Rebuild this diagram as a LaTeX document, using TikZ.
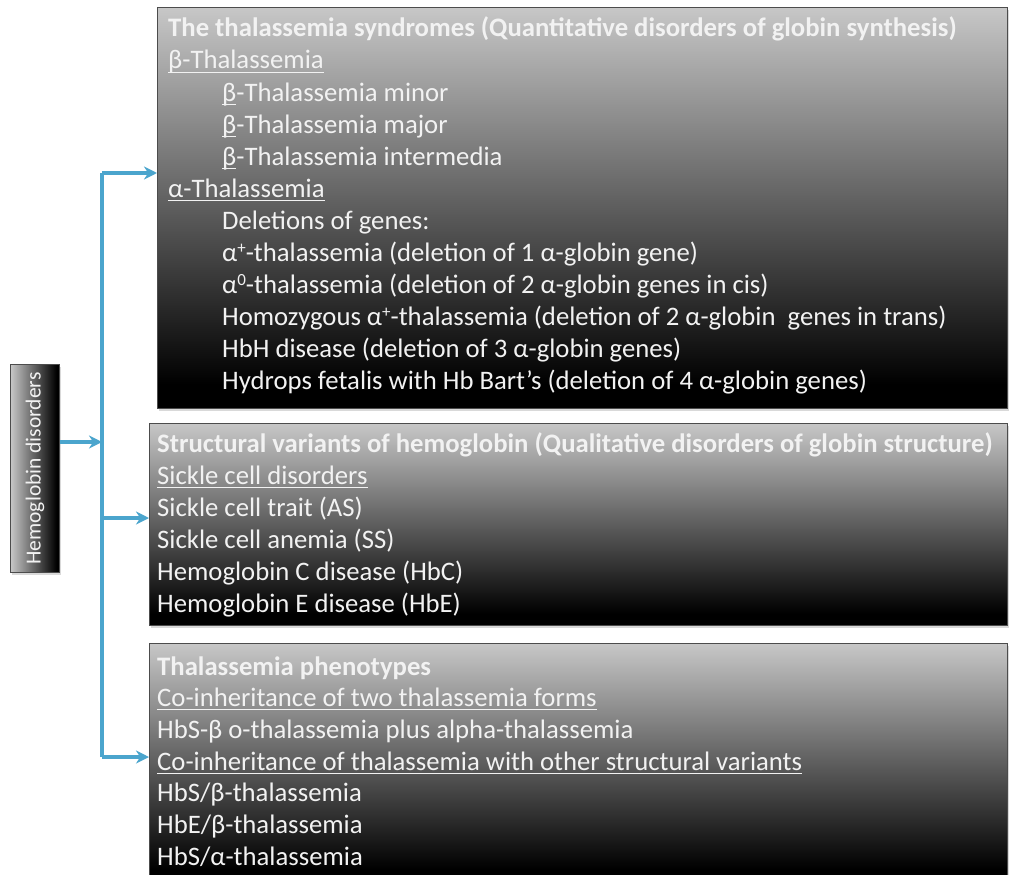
\documentclass[tikz,border=0pt]{standalone}
\usepackage{fontspec}
\setmainfont{Carlito}
\usetikzlibrary{arrows.meta,shadows}
\definecolor{topg}{gray}{0.78}
\definecolor{edgec}{gray}{0.3}
\definecolor{txtc}{gray}{0.95}
\definecolor{linec}{RGB}{75,165,205}
\pgfdeclareverticalshading{boxshade}{100bp}{color(0bp)=(black); color(25bp)=(black); color(28bp)=(black); color(75bp)=(topg); color(100bp)=(topg)}
\newcommand\ulx[1]{\setbox0\hbox{#1}\rlap{\rule[-3.5pt]{\wd0}{1pt}}\box0}
\newcommand\supx[1]{\raisebox{8pt}{\fontsize{17}{17}\selectfont #1}}
\begin{document}
\begin{tikzpicture}[x=1pt,y=-1pt,
  panel/.style={draw=edgec, line width=1.2pt, shade, shading=boxshade, inner sep=0, anchor=north west,
    drop shadow={shadow xshift=1pt,shadow yshift=-2pt,opacity=0.3}},
  tx/.style={anchor=base west, inner sep=0, text=txtc, font=\fontsize{26.7}{31.7}\selectfont},
  hd/.style={tx, font=\fontsize{26.7}{31.7}\selectfont\bfseries},
  conn/.style={draw=linec, line width=3.2pt},
  arr/.style={conn, -{Stealth[length=13pt,width=13pt]}},
]
\useasboundingbox (0,0) rectangle (1009,875);
% panels
\node[panel, minimum width=850pt, minimum height=401pt] (b1) at (157,7) {};
\node[panel, minimum width=858pt, minimum height=202pt] (b2) at (149,423) {};
\node[panel, minimum width=858pt, minimum height=240pt] (b3) at (149,643) {};
\node[panel, shading angle=90, minimum width=49pt, minimum height=208pt] (lb) at (10,364) {};
\node[tx, anchor=center, rotate=90, font=\fontsize{21.5}{26}\selectfont] (lbt) at (lb.center) {Hemoglobin disorders};
% box 1 text
\node[hd] (a1) at (168,37) {The thalassemia syndromes (Quantitative disorders of globin synthesis)};
\node[tx] (a2) at (168,69) {\ulx{β-Thalassemia}};
\node[tx] (a3) at (222,101) {\ulx{β}-Thalassemia minor};
\node[tx] (a4) at (222,133) {\ulx{β}-Thalassemia major};
\node[tx] (a5) at (222,165) {\ulx{β}-Thalassemia intermedia};
\node[tx] (a6) at (168,197) {\ulx{α-Thalassemia}};
\node[tx] (a7) at (222,229) {Deletions of genes:};
\node[tx] (a8) at (222,261) {α\supx{+}-thalassemia (deletion of 1 α-globin gene)};
\node[tx] (a9) at (222,293) {α\supx{0}-thalassemia (deletion of 2 α-globin genes in cis)};
\node[tx] (a10) at (222,325) {Homozygous α\supx{+}-thalassemia (deletion of 2 α-globin\ \ genes in trans)};
\node[tx] (a11) at (222,357) {HbH disease (deletion of 3 α-globin genes)};
\node[tx] (a12) at (222,389) {Hydrops fetalis with Hb Bart’s (deletion of 4 α-globin genes)};
% box 2 text
\node[hd] (c1) at (157,452) {Structural variants of hemoglobin (Qualitative disorders of globin structure)};
\node[tx] (c2) at (157,484) {\ulx{Sickle cell disorders}};
\node[tx] (c3) at (157,516) {Sickle cell trait (AS)};
\node[tx] (c4) at (157,548) {Sickle cell anemia (SS)};
\node[tx] (c5) at (157,580) {Hemoglobin C disease (HbC)};
\node[tx] (c6) at (157,612) {Hemoglobin E disease (HbE)};
% box 3 text
\node[hd] (d1) at (157,675) {Thalassemia phenotypes};
\node[tx] (d2) at (157,706.7) {\ulx{Co-inheritance of two thalassemia forms}};
\node[tx] (d3) at (157,738.4) {HbS-β o-thalassemia plus alpha-thalassemia};
\node[tx] (d4) at (157,770.1) {\ulx{Co-inheritance of thalassemia with other structural variants}};
\node[tx] (d5) at (157,801.8) {HbS/β-thalassemia};
\node[tx] (d6) at (157,833.5) {HbE/β-thalassemia};
\node[tx] (d7) at (157,865.2) {HbS/α-thalassemia};
% connectors
\coordinate (vtop) at (102,173);
\coordinate (vmid) at (102,442);
\coordinate (vb2) at (102,518);
\coordinate (vbot) at (102,757);
\draw[conn] (vtop) -- (vbot);
\draw[arr] (lb.east |- vmid) -- (vmid);
\draw[arr] (vtop) -- (b1.west |- vtop);
\draw[arr] (vb2) -- (b2.west |- vb2);
\draw[arr] (vbot) -- (b3.west |- vbot);
\end{tikzpicture}
\end{document}
